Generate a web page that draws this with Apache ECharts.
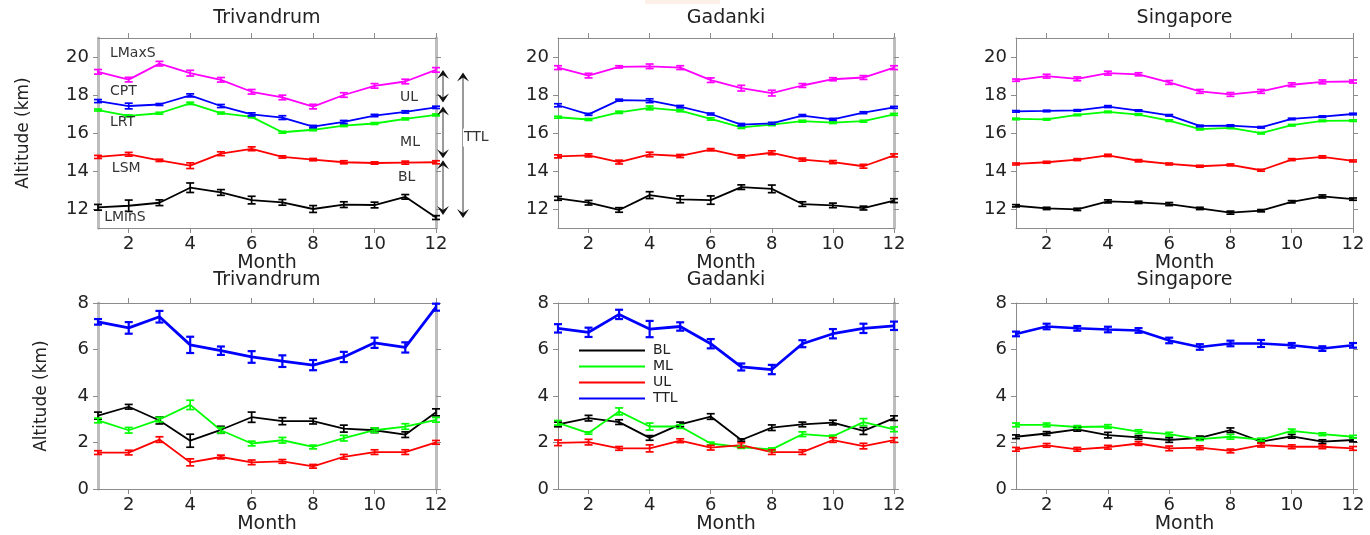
<!DOCTYPE html>
<html>
<head>
<meta charset="utf-8">
<script src="https://cdn.jsdelivr.net/npm/echarts@6/dist/echarts.min.js"></script>
<style>html,body{margin:0;padding:0;background:#fff;}#c{width:1370px;height:535px;}</style>
</head>
<body>
<div id="c"></div>
<script>
// ---------- DATA ----------
const months = [1,2,3,4,5,6,7,8,9,10,11,12];
const stations = ['Trivandrum','Gadanki','Singapore'];
const xTickLabels = [2,4,6,8,10,12];
const yTicksUpper = [12,14,16,18,20];
const yTicksLower = [0,2,4,6,8];

// Upper panels: tropopause-level altitudes (km)
const trvLMaxS = [19.22,18.81,19.65,19.15,18.80,18.17,17.87,17.39,18.00,18.48,18.71,19.32];
const trvLMaxSErr = [0.12,0.12,0.12,0.15,0.12,0.12,0.12,0.12,0.12,0.12,0.12,0.12];
const trvCPT = [17.68,17.42,17.50,17.98,17.42,16.98,16.81,16.34,16.58,16.92,17.11,17.35];
const trvCPTErr = [0.08,0.15,0.05,0.08,0.08,0.08,0.10,0.06,0.08,0.06,0.06,0.06];
const trvLRT = [17.21,16.90,17.04,17.56,17.05,16.85,16.04,16.17,16.39,16.50,16.74,16.95];
const trvLRTErr = [0.05,0.05,0.05,0.06,0.05,0.05,0.05,0.05,0.05,0.05,0.05,0.05];
const trvLSM = [14.74,14.88,14.56,14.28,14.91,15.17,14.74,14.60,14.46,14.42,14.44,14.46];
const trvLSMErr = [0.08,0.10,0.06,0.15,0.10,0.10,0.06,0.06,0.08,0.06,0.08,0.08];
const trvLMinS = [12.09,12.17,12.33,13.12,12.87,12.47,12.35,12.00,12.23,12.21,12.64,11.55];
const trvLMinSErr = [0.15,0.30,0.15,0.25,0.15,0.20,0.15,0.18,0.15,0.15,0.12,0.10];

const gadLMaxS = [19.44,19.02,19.48,19.51,19.44,18.78,18.36,18.10,18.50,18.83,18.92,19.44];
const gadLMaxSErr = [0.10,0.12,0.06,0.12,0.10,0.12,0.15,0.15,0.10,0.08,0.10,0.10];
const gadCPT = [17.46,16.98,17.73,17.70,17.39,17.00,16.44,16.51,16.92,16.72,17.07,17.35];
const gadCPTErr = [0.08,0.05,0.05,0.10,0.06,0.05,0.06,0.05,0.05,0.05,0.05,0.05];
const gadLRT = [16.83,16.71,17.09,17.32,17.18,16.74,16.30,16.44,16.62,16.55,16.62,16.98];
const gadLRTErr = [0.05,0.05,0.06,0.10,0.06,0.06,0.06,0.05,0.05,0.05,0.05,0.05];
const gadLSM = [14.77,14.82,14.47,14.87,14.79,15.12,14.77,14.96,14.60,14.47,14.25,14.82];
const gadLSMErr = [0.08,0.08,0.10,0.12,0.08,0.06,0.08,0.10,0.08,0.08,0.10,0.08];
const gadLMinS = [12.56,12.33,11.95,12.73,12.51,12.47,13.15,13.06,12.26,12.19,12.05,12.44];
const gadLMinSErr = [0.10,0.12,0.12,0.18,0.18,0.22,0.12,0.20,0.12,0.12,0.10,0.10];

const sinLMaxS = [18.78,18.99,18.85,19.15,19.09,18.66,18.19,18.03,18.19,18.54,18.69,18.71];
const sinLMaxSErr = [0.06,0.10,0.10,0.10,0.08,0.10,0.10,0.10,0.10,0.10,0.10,0.08];
const sinCPT = [17.14,17.16,17.19,17.39,17.18,16.93,16.37,16.39,16.30,16.74,16.86,17.00];
const sinCPTErr = [0.04,0.04,0.04,0.05,0.04,0.04,0.04,0.04,0.04,0.04,0.04,0.04];
const sinLRT = [16.74,16.72,16.95,17.11,16.97,16.65,16.20,16.27,15.99,16.41,16.64,16.65];
const sinLRTErr = [0.04,0.04,0.04,0.04,0.04,0.04,0.04,0.04,0.04,0.04,0.04,0.04];
const sinLSM = [14.37,14.46,14.60,14.82,14.54,14.37,14.25,14.32,14.04,14.60,14.74,14.53];
const sinLSMErr = [0.05,0.05,0.05,0.06,0.06,0.05,0.05,0.05,0.05,0.05,0.06,0.05];
const sinLMinS = [12.17,12.03,11.98,12.40,12.35,12.26,12.03,11.81,11.91,12.38,12.66,12.52];
const sinLMinSErr = [0.06,0.06,0.06,0.08,0.06,0.08,0.06,0.08,0.06,0.06,0.08,0.06];

// Lower panels: layer thickness (km)
const trvBL = [3.16,3.54,2.95,2.08,2.55,3.09,2.92,2.92,2.60,2.53,2.34,3.30];
const trvBLErr = [0.15,0.10,0.15,0.28,0.15,0.22,0.15,0.12,0.15,0.10,0.12,0.15];
const trvML = [2.95,2.53,2.99,3.62,2.53,1.96,2.10,1.81,2.19,2.53,2.69,2.98];
const trvMLErr = [0.10,0.12,0.10,0.20,0.12,0.10,0.12,0.08,0.12,0.10,0.12,0.10];
const trvUL = [1.57,1.57,2.13,1.15,1.38,1.15,1.19,0.98,1.39,1.59,1.59,2.01];
const trvULErr = [0.08,0.10,0.12,0.15,0.08,0.10,0.08,0.08,0.10,0.10,0.10,0.08];
const trvTTL = [7.19,6.93,7.41,6.20,5.95,5.68,5.50,5.33,5.68,6.29,6.09,7.82];
const trvTTLErr = [0.12,0.25,0.25,0.35,0.18,0.25,0.25,0.22,0.22,0.22,0.22,0.15];

const gadBL = [2.78,3.05,2.88,2.20,2.78,3.12,2.11,2.64,2.78,2.86,2.50,3.05];
const gadBLErr = [0.10,0.12,0.10,0.10,0.10,0.12,0.05,0.12,0.10,0.10,0.15,0.10];
const gadML = [2.85,2.41,3.34,2.69,2.69,1.96,1.80,1.71,2.36,2.27,2.88,2.57];
const gadMLErr = [0.10,0.05,0.15,0.15,0.08,0.06,0.05,0.06,0.10,0.05,0.15,0.10];
const gadUL = [1.99,2.02,1.75,1.75,2.08,1.78,1.89,1.59,1.59,2.11,1.85,2.11];
const gadULErr = [0.12,0.12,0.08,0.15,0.08,0.10,0.10,0.10,0.10,0.10,0.12,0.10];
const gadTTL = [6.91,6.74,7.51,6.88,6.99,6.25,5.25,5.14,6.25,6.68,6.91,7.02];
const gadTTLErr = [0.18,0.20,0.20,0.35,0.18,0.20,0.15,0.20,0.15,0.20,0.20,0.18];

const sinBL = [2.25,2.39,2.57,2.32,2.22,2.11,2.20,2.53,2.04,2.27,2.04,2.11];
const sinBLErr = [0.08,0.08,0.08,0.12,0.08,0.10,0.08,0.10,0.06,0.08,0.08,0.08];
const sinML = [2.76,2.76,2.67,2.69,2.47,2.36,2.15,2.25,2.13,2.50,2.36,2.25];
const sinMLErr = [0.08,0.08,0.06,0.08,0.08,0.08,0.06,0.10,0.06,0.08,0.06,0.06];
const sinUL = [1.71,1.88,1.71,1.80,1.96,1.75,1.78,1.64,1.89,1.82,1.82,1.75];
const sinULErr = [0.08,0.08,0.08,0.08,0.08,0.10,0.08,0.08,0.08,0.08,0.08,0.08];
const sinTTL = [6.67,6.99,6.91,6.86,6.82,6.39,6.11,6.26,6.26,6.18,6.04,6.18];
const sinTTLErr = [0.10,0.12,0.10,0.12,0.10,0.12,0.12,0.12,0.15,0.10,0.10,0.10];

// Annotation labels (top-left panel, in data coordinates [month, km])
const levelLabels = [
  ['LMaxS', 1.39, 20.2], ['CPT', 1.39, 18.17], ['LRT', 1.39, 16.55],
  ['LSM', 1.45, 14.14], ['LMinS', 1.2, 11.58]
];
const layerLabels = [['UL', 10.83, 17.9], ['ML', 10.83, 15.5], ['BL', 10.76, 13.67]];
const layerArrows = [[19.32, 17.6], [17.39, 14.67], [14.56, 11.68]];
const ttlArrow = [19.18, 11.53];
const ttlLabelY = 15.76;

// ---------- CHART ----------
const FONT = 'DejaVu Sans';
const TXT = '#222';
const C = {mag:'#ff00ff', blue:'#0000ff', green:'#00ff00', red:'#ff0000', black:'#000000'};

const grids = [
  {left:98, top:38, width:338, height:190},
  {left:558, top:38, width:336, height:190},
  {left:1016, top:38, width:337, height:190},
  {left:98, top:303, width:338, height:190},
  {left:558, top:303, width:336, height:190},
  {left:1016, top:303, width:337, height:190}
];
const THICK = {color:'#bdbdbd', width:3};
const THIN = {color:'#8c8c8c', width:1};
const edges = [[THICK,THICK],[THIN,THICK],[THIN,THIN],[THICK,THICK],[THIN,THICK],[THIN,THIN]];

const panels = [
  [ ['LMinS',C.black,trvLMinS,trvLMinSErr,1.8], ['LSM',C.red,trvLSM,trvLSMErr,1.8], ['LRT',C.green,trvLRT,trvLRTErr,1.8], ['CPT',C.blue,trvCPT,trvCPTErr,1.8], ['LMaxS',C.mag,trvLMaxS,trvLMaxSErr,1.8] ],
  [ ['LMinS',C.black,gadLMinS,gadLMinSErr,1.8], ['LSM',C.red,gadLSM,gadLSMErr,1.8], ['LRT',C.green,gadLRT,gadLRTErr,1.8], ['CPT',C.blue,gadCPT,gadCPTErr,1.8], ['LMaxS',C.mag,gadLMaxS,gadLMaxSErr,1.8] ],
  [ ['LMinS',C.black,sinLMinS,sinLMinSErr,1.8], ['LSM',C.red,sinLSM,sinLSMErr,1.8], ['LRT',C.green,sinLRT,sinLRTErr,1.8], ['CPT',C.blue,sinCPT,sinCPTErr,1.8], ['LMaxS',C.mag,sinLMaxS,sinLMaxSErr,1.8] ],
  [ ['BL',C.black,trvBL,trvBLErr,1.8], ['ML',C.green,trvML,trvMLErr,1.8], ['UL',C.red,trvUL,trvULErr,1.8], ['TTL',C.blue,trvTTL,trvTTLErr,2.8] ],
  [ ['BL',C.black,gadBL,gadBLErr,1.8], ['ML',C.green,gadML,gadMLErr,1.8], ['UL',C.red,gadUL,gadULErr,1.8], ['TTL',C.blue,gadTTL,gadTTLErr,2.8] ],
  [ ['BL',C.black,sinBL,sinBLErr,1.8], ['ML',C.green,sinML,sinMLErr,1.8], ['UL',C.red,sinUL,sinULErr,1.8], ['TTL',C.blue,sinTTL,sinTTLErr,2.5] ]
];

const xAxes = [], yAxes = [], series = [], titles = [];
grids.forEach((g, i) => {
  const upper = i < 3;
  const yt = upper ? yTicksUpper : yTicksLower;
  const ymin = upper ? 11 : 0, ymax = upper ? 21 : 8;
  const tick = {show:true, inside:false, length:5, lineStyle:{color:'#8c8c8c', width:1}};
  xAxes.push({
    gridIndex:i, type:'value', min:1, max:12, position:'bottom',
    axisLine:{show:true, onZero:false, lineStyle:{color:'#8c8c8c', width:1}},
    axisTick:Object.assign({customValues:xTickLabels}, tick),
    axisLabel:{customValues:xTickLabels, margin:7, fontSize:18, fontFamily:FONT, color:TXT},
    splitLine:{show:false},
    name:'Month', nameLocation:'middle', nameGap:23,
    nameTextStyle:{fontSize:19, fontFamily:FONT, color:TXT}
  });
  xAxes.push({
    gridIndex:i, type:'value', min:1, max:12, position:'top',
    axisLine:{show:true, onZero:false, lineStyle:{color:'#8c8c8c', width:1}},
    axisTick:Object.assign({customValues:xTickLabels}, tick),
    axisLabel:{show:false}, splitLine:{show:false}
  });
  const col = i % 3;
  yAxes.push({
    gridIndex:i, type:'value', min:ymin, max:ymax, position:'left',
    axisLine:{show:true, onZero:false, lineStyle:edges[i][0]},
    axisTick:Object.assign({customValues:yt}, tick),
    axisLabel:{customValues:yt, margin:9, fontSize:18, fontFamily:FONT, color:TXT},
    splitLine:{show:false},
    name: col === 0 ? 'Altitude (km)' : '', nameLocation:'middle',
    nameGap: upper ? 66 : 48,
    nameTextStyle:{fontSize:17, fontFamily:FONT, color:TXT}
  });
  yAxes.push({
    gridIndex:i, type:'value', min:ymin, max:ymax, position:'right',
    axisLine:{show:true, onZero:false, lineStyle:edges[i][1]},
    axisTick:Object.assign({customValues:yt}, tick),
    axisLabel:{show:false}, splitLine:{show:false}
  });
  titles.push({
    text: stations[col], left: g.left + g.width/2, top: upper ? 9 : 271,
    textAlign:'center', padding:0,
    textStyle:{fontSize:19, fontWeight:'normal', fontFamily:FONT, color:TXT}
  });
  panels[i].forEach(([name, color, vals, errs, lw]) => {
    series.push({
      name, type:'line', xAxisIndex:2*i, yAxisIndex:2*i,
      data: months.map((m, k) => [m, vals[k]]),
      showSymbol:false, symbol:'none', color,
      lineStyle:{color, width:lw}, z:2, animation:false
    });
    series.push({
      name: name + ' error', type:'custom', xAxisIndex:2*i, yAxisIndex:2*i,
      data: months.map((m, k) => [m, vals[k], errs[k]]),
      encode:{x:0, y:1}, clip:false, z:3, animation:false, silent:true,
      renderItem: function (params, api) {
        const x = api.value(0), y = api.value(1), e = api.value(2);
        const lo = api.coord([x, y - e]), hi = api.coord([x, y + e]);
        const h = 4;
        const st = {stroke:color, lineWidth: lw > 2 ? 2.2 : 1.7};
        return {type:'group', children:[
          {type:'line', shape:{x1:lo[0], y1:lo[1], x2:hi[0], y2:hi[1]}, style:st},
          {type:'line', shape:{x1:lo[0]-h, y1:lo[1], x2:lo[0]+h, y2:lo[1]}, style:st},
          {type:'line', shape:{x1:hi[0]-h, y1:hi[1], x2:hi[0]+h, y2:hi[1]}, style:st}
        ]};
      }
    });
  });
});

const chart = echarts.init(document.getElementById('c'), null, {renderer:'canvas'});
chart.setOption({
  backgroundColor:'#ffffff',
  animation:false,
  title: titles,
  grid: grids.map(g => Object.assign({containLabel:false}, g)),
  xAxis: xAxes,
  yAxis: yAxes,
  legend: {
    data: ['BL','ML','UL','TTL'].map(n => ({name:n, icon:'rect'})),
    orient:'vertical', left:579, top:343, itemWidth:66, itemHeight:2, itemGap:1,
    padding:0, selectedMode:false,
    textStyle:{fontSize:14, fontFamily:FONT, color:TXT, lineHeight:15, padding:[0,0,0,3]}
  },
  series
});

// ---------- ANNOTATIONS (top-left panel) ----------
const px = (x, y) => chart.convertToPixel({gridIndex:0}, [x, y]);
const graphics = [];
levelLabels.concat(layerLabels).forEach(([t, x, y]) => {
  const p = px(x, y);
  graphics.push({type:'text', x:p[0], y:p[1], z:10,
    style:{text:t, fill:'#333', font:'14px "DejaVu Sans"', textAlign:'left', textVerticalAlign:'middle'}});
});
const x12 = px(12, 12)[0];
function arrow(x, yTopVal, yBotVal) {
  const t = px(12, yTopVal)[1], b = px(12, yBotVal)[1];
  graphics.push({type:'line', z:8, shape:{x1:x, y1:t+4, x2:x, y2:b-4}, style:{stroke:'#9a9a9a', lineWidth:2}});
  graphics.push({type:'polygon', z:9, shape:{points:[[x,t],[x+6,t+9],[x,t+5],[x-6,t+9]]}, style:{fill:'#111'}});
  graphics.push({type:'polygon', z:9, shape:{points:[[x,b],[x+6,b-9],[x,b-5],[x-6,b-9]]}, style:{fill:'#111'}});
}
layerArrows.forEach(([a, b]) => arrow(x12 + 7, a, b));
arrow(x12 + 27, ttlArrow[0], ttlArrow[1]);
const pt = px(12, ttlLabelY);
graphics.push({type:'text', x:x12 + 27, y:pt[1], z:12,
  style:{text:'TTL', fill:'#333', font:'14px "DejaVu Sans"', textAlign:'left', textVerticalAlign:'middle',
    backgroundColor:'#fff', padding:[2,1,2,1]}});
graphics.push({type:'rect', z:0, shape:{x:645, y:0, width:75, height:4}, style:{fill:'#fdf0e8'}});
chart.setOption({graphic: graphics});
</script>
</body>
</html>
